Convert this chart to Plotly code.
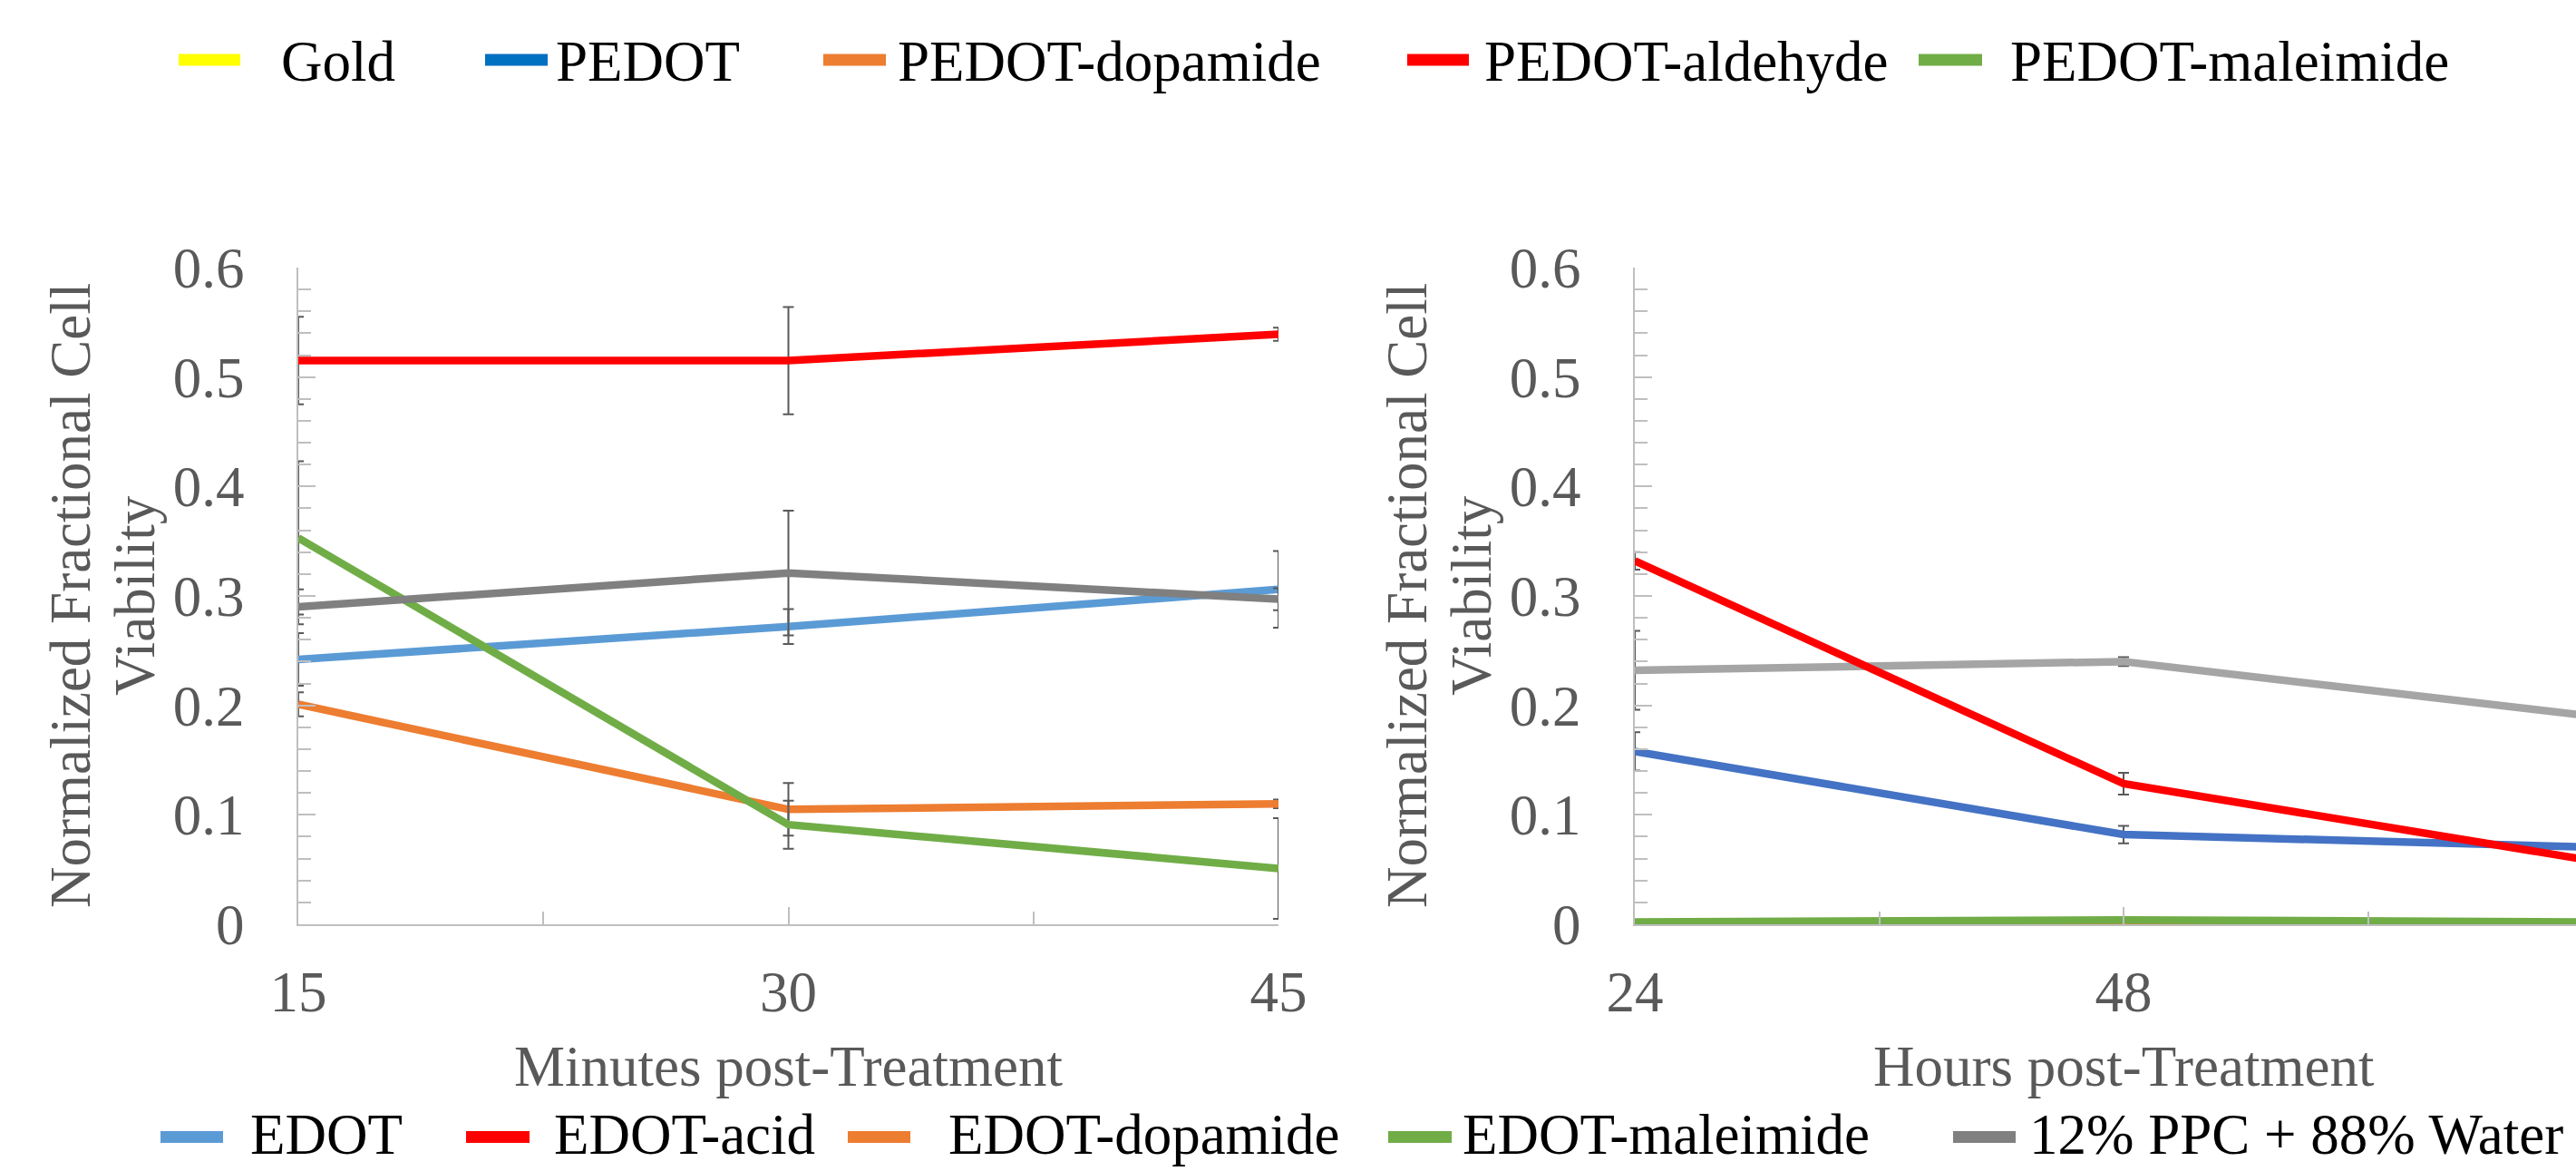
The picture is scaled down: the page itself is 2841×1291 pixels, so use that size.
import plotly.graph_objects as go

W, H = 2841, 1291
FONT = "Liberation Serif"
AXIS_GRAY = "#BFBFBF"
TEXT_GRAY = "#595959"
ERR_GRAY = "#595959"

# ---------------- data: left panel (minutes) ----------------
minutes = [15, 30, 45]
edot = [0.242, 0.272, 0.306]
edot_err = [0.024, 0.016, 0.035]
edot_acid = [0.515, 0.515, 0.539]
edot_acid_err = [0.040, 0.049, 0.006]
edot_dopamide = [0.201, 0.105, 0.110]
edot_dopamide_err = [0.011, 0.024, 0.004]
edot_maleimide = [0.353, 0.091, 0.051]
edot_maleimide_err = [0.070, 0.022, 0.046]
ppc_water = [0.290, 0.321, 0.297]
ppc_water_err = [0.016, 0.057, 0.010]

# ---------------- data: right panel (hours) ----------------
hours = [24, 48, 72]
pedot = [0.158, 0.082, 0.070]
pedot_err = [0.0175, 0.008, 0.008]
pedot_aldehyde = [0.332, 0.1285, 0.055]
pedot_aldehyde_err = [0.008, 0.010, 0.008]
pedot_control = [0.232, 0.240, 0.188]
pedot_control_err = [0.036, 0.004, 0.008]
pedot_maleimide = [0.002, 0.004, 0.002]
pedot_dopamide = [0.0, 0.0, 0.0]

y_ticks = [0, 0.1, 0.2, 0.3, 0.4, 0.5, 0.6]
y_ticklabels = ["0", "0.1", "0.2", "0.3", "0.4", "0.5", "0.6"]

top_legend_names = ["Gold", "PEDOT", "PEDOT-dopamide", "PEDOT-aldehyde", "PEDOT-maleimide"]
top_legend_colors = ["#FFFF00", "#0070C0", "#ED7D31", "#FF0000", "#70AD47"]
bottom_legend_names = ["EDOT", "EDOT-acid", "EDOT-dopamide", "EDOT-maleimide", "12% PPC + 88% Water"]
bottom_legend_colors = ["#5B9BD5", "#FF0000", "#ED7D31", "#70AD47", "#808080"]

# ---------------- layout geometry (pixels) ----------------
L_AX_X0, L_AX_X1 = 329, 1410
R_AX_X0 = 1803
R_TICK_SPACING = 539  # px per 24 hours
PLOT_TOP, PLOT_BOT = 295, 1019

def px(x):
    return x / W

def py(y):
    return 1 - y / H

right_range_max = 24 + 24 * (W - R_AX_X0) / R_TICK_SPACING

fig = go.Figure()

def err(arr):
    return dict(type="data", array=arr, color=ERR_GRAY, thickness=2, width=6, visible=True)

LW = 8.5
# left panel
left_series = [
    ("EDOT", edot, edot_err, "#5B9BD5"),
    ("EDOT-acid", edot_acid, edot_acid_err, "#FF0000"),
    ("EDOT-dopamide", edot_dopamide, edot_dopamide_err, "#ED7D31"),
    ("EDOT-maleimide", edot_maleimide, edot_maleimide_err, "#70AD47"),
    ("12% PPC + 88% Water", ppc_water, ppc_water_err, "#808080"),
]
for name, vals, e, col in left_series:
    fig.add_trace(go.Scatter(x=minutes, y=vals, mode="lines", name=name,
                             line=dict(color=col, width=LW), error_y=err(e),
                             xaxis="x", yaxis="y", showlegend=False))

# right panel
right_series = [
    ("PEDOT-dopamide", pedot_dopamide, None, "#ED7D31"),
    ("PEDOT", pedot, pedot_err, "#4472C4"),
    ("Control", pedot_control, pedot_control_err, "#A5A5A5"),
    ("PEDOT-aldehyde", pedot_aldehyde, pedot_aldehyde_err, "#FF0000"),
    ("PEDOT-maleimide", pedot_maleimide, None, "#70AD47"),
]
for name, vals, e, col in right_series:
    kw = {}
    if e is not None:
        kw["error_y"] = err(e)
    fig.add_trace(go.Scatter(x=hours, y=vals, mode="lines", name=name,
                             line=dict(color=col, width=LW),
                             xaxis="x2", yaxis="y2", showlegend=False, **kw))

tickfont = dict(family=FONT, size=63, color=TEXT_GRAY)

def yaxis_cfg(anchor):
    return dict(
        domain=[py(PLOT_BOT), py(PLOT_TOP)], range=[0, 0.6], anchor=anchor,
        tickmode="array", tickvals=y_ticks, ticktext=y_ticklabels,
        ticks="inside", ticklen=19, tickwidth=2, tickcolor=AXIS_GRAY,
        minor=dict(dtick=0.02, tick0=0, ticks="inside", ticklen=14, tickwidth=2, tickcolor=AXIS_GRAY),
        showline=True, linecolor=AXIS_GRAY, linewidth=2, automargin=False,
        showgrid=False, zeroline=False, tickfont=tickfont, ticklabelstandoff=45,
    )

def xaxis_cfg(anchor, domain, rng, t0, dt, mdt):
    return dict(
        domain=domain, range=rng, anchor=anchor,
        tickmode="linear", tick0=t0, dtick=dt,
        ticks="inside", ticklen=19, tickwidth=2, tickcolor=AXIS_GRAY,
        minor=dict(dtick=mdt, tick0=t0, ticks="inside", ticklen=14, tickwidth=2, tickcolor=AXIS_GRAY),
        showline=True, linecolor=AXIS_GRAY, linewidth=2, automargin=False,
        showgrid=False, zeroline=False, tickfont=tickfont, ticklabelstandoff=18,
    )

fig.update_layout(
    width=W, height=H,
    margin=dict(l=0, r=0, t=0, b=0, pad=0, autoexpand=False),
    paper_bgcolor="white", plot_bgcolor="white",
    showlegend=False,
    xaxis=xaxis_cfg("y", [px(L_AX_X0), px(L_AX_X1)], [15, 45], 15, 15, 7.5),
    yaxis=yaxis_cfg("x"),
    xaxis2=xaxis_cfg("y2", [px(R_AX_X0), 1.0], [24, right_range_max], 24, 24, 12),
    yaxis2=yaxis_cfg("x2"),
)

annotations = []
shapes = []
title_font = dict(family=FONT, size=63, color=TEXT_GRAY)

# x-axis titles
annotations.append(dict(text="Minutes post-Treatment", x=30, xref="x", y=py(1176), yref="paper",
                        xanchor="center", yanchor="middle", showarrow=False, font=title_font))
annotations.append(dict(text="Hours post-Treatment", x=48, xref="x2", y=py(1176), yref="paper",
                        xanchor="center", yanchor="middle", showarrow=False, font=title_font))

# y-axis titles (two lines each)
for ax0 in (L_AX_X0, R_AX_X0):
    for txt, off in (("Normalized Fractional Cell", -251), ("Viability", -180)):
        annotations.append(dict(text=txt, x=px(ax0 + off), xref="paper", y=py(657), yref="paper",
                                xanchor="center", yanchor="middle", textangle=-90,
                                showarrow=False, font=title_font))

legend_font = dict(family=FONT, size=63, color="black")

# top legend: (symbol x0, symbol x1, text x)
top_pos = [(197, 265, 308), (535, 604, 611), (908, 977, 988), (1552, 1620, 1635), (2116, 2186, 2215)]
for name, col, (s0, s1, tx) in zip(top_legend_names, top_legend_colors, top_pos):
    shapes.append(dict(type="rect", xref="paper", yref="paper", x0=px(s0), x1=px(s1),
                       y0=py(72.5), y1=py(59.5), fillcolor=col, line=dict(width=0)))
    annotations.append(dict(text=name, x=px(tx), xref="paper", y=py(68), yref="paper",
                            xanchor="left", yanchor="middle", showarrow=False, font=legend_font))

bottom_pos = [(177, 246, 274), (514, 584, 609), (935, 1004, 1044), (1531, 1601, 1611), (2154, 2223, 2236)]
for name, col, (s0, s1, tx) in zip(bottom_legend_names, bottom_legend_colors, bottom_pos):
    shapes.append(dict(type="rect", xref="paper", yref="paper", x0=px(s0), x1=px(s1),
                       y0=py(1260), y1=py(1247), fillcolor=col, line=dict(width=0)))
    annotations.append(dict(text=name, x=px(tx), xref="paper", y=py(1251), yref="paper",
                            xanchor="left", yanchor="middle", showarrow=False, font=legend_font))

fig.update_layout(annotations=annotations, shapes=shapes)

fig.write_html("out.html")
